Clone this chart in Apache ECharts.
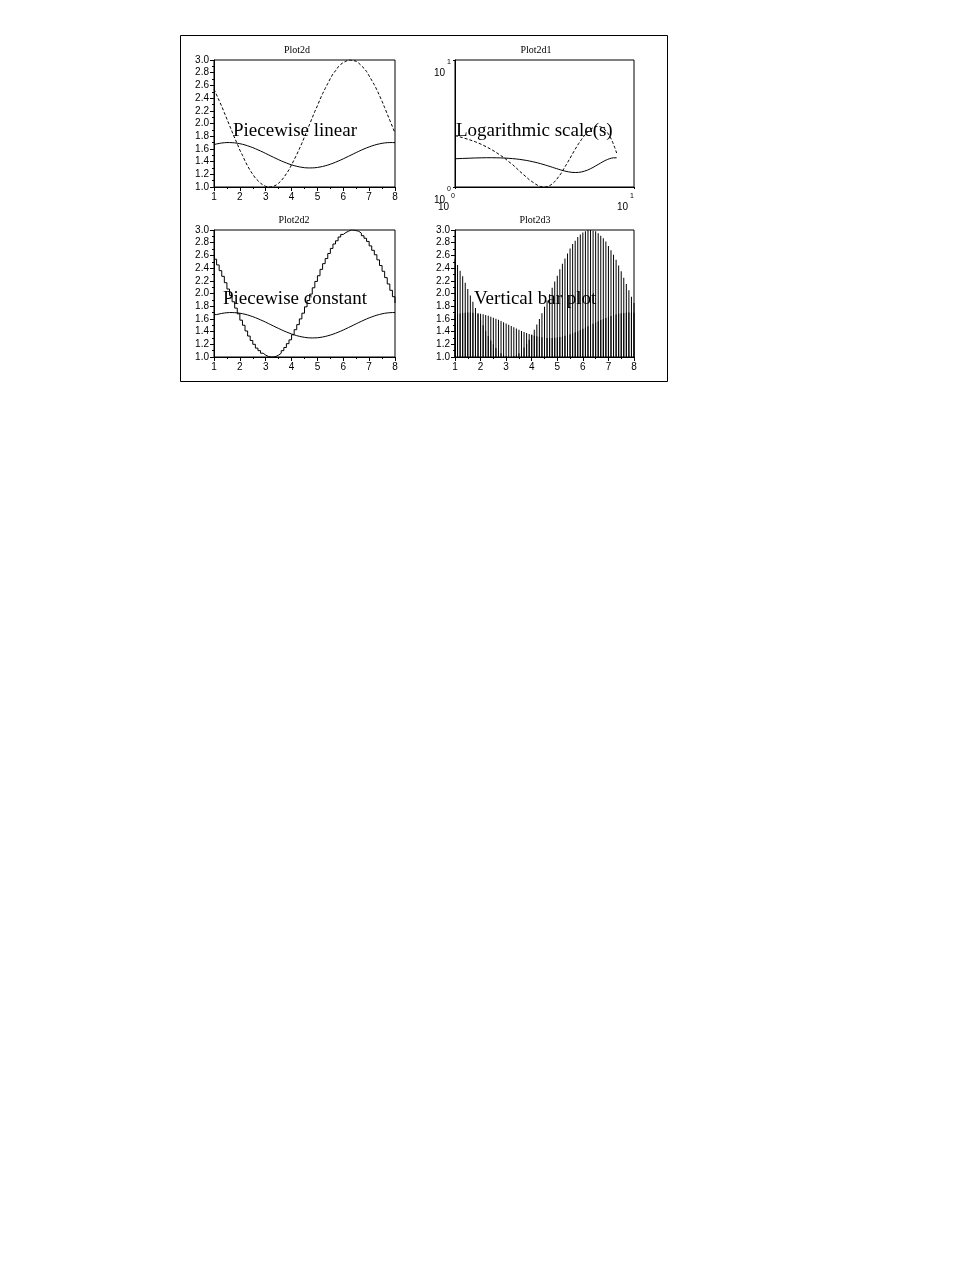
<!DOCTYPE html>
<html>
<head>
<meta charset="utf-8">
<title>plot2d demo</title>
<script src="https://cdn.jsdelivr.net/npm/echarts@6/dist/echarts.min.js"></script>
<style>
  html, body { margin: 0; padding: 0; background: #fff; }
  #chart { width: 978px; height: 1265px; }
</style>
</head>
<body>
<div id="chart"></div>
<script>
// abscissa 1..8 step 0.1
var xs = [
  1.0, 1.1, 1.2, 1.3, 1.4, 1.5, 1.6, 1.7, 1.8, 1.9,
  2.0, 2.1, 2.2, 2.3, 2.4, 2.5, 2.6, 2.7, 2.8, 2.9,
  3.0, 3.1, 3.2, 3.3, 3.4, 3.5, 3.6, 3.7, 3.8, 3.9,
  4.0, 4.1, 4.2, 4.3, 4.4, 4.5, 4.6, 4.7, 4.8, 4.9,
  5.0, 5.1, 5.2, 5.3, 5.4, 5.5, 5.6, 5.7, 5.8, 5.9,
  6.0, 6.1, 6.2, 6.3, 6.4, 6.5, 6.6, 6.7, 6.8, 6.9,
  7.0, 7.1, 7.2, 7.3, 7.4, 7.5, 7.6, 7.7, 7.8, 7.9,
  8.0
];

// the big wave (dashed curve)
var wave = [
  2.54, 2.45, 2.36, 2.27, 2.17, 2.07, 1.97, 1.87, 1.77, 1.68,
  1.58, 1.50, 1.41, 1.33, 1.26, 1.20, 1.14, 1.10, 1.06, 1.03,
  1.01, 1.00, 1.00, 1.01, 1.03, 1.06, 1.10, 1.15, 1.21, 1.27,
  1.35, 1.43, 1.51, 1.60, 1.69, 1.79, 1.89, 1.99, 2.09, 2.19,
  2.28, 2.38, 2.47, 2.55, 2.63, 2.71, 2.78, 2.83, 2.89, 2.93,
  2.96, 2.98, 3.00, 3.00, 2.99, 2.98, 2.95, 2.91, 2.87, 2.82,
  2.75, 2.68, 2.61, 2.53, 2.44, 2.35, 2.25, 2.15, 2.05, 1.95,
  1.85
];

// the flat wave (solid curve)
var flat = [
  1.668, 1.678, 1.686, 1.693, 1.697, 1.700, 1.700, 1.698, 1.695, 1.689,
  1.682, 1.673, 1.662, 1.649, 1.635, 1.620, 1.603, 1.585, 1.567, 1.548,
  1.528, 1.508, 1.488, 1.468, 1.449, 1.430, 1.411, 1.394, 1.378, 1.362,
  1.349, 1.336, 1.326, 1.317, 1.310, 1.304, 1.301, 1.300, 1.301, 1.303,
  1.308, 1.315, 1.323, 1.334, 1.345, 1.359, 1.374, 1.390, 1.407, 1.425,
  1.444, 1.464, 1.483, 1.503, 1.523, 1.543, 1.562, 1.581, 1.599, 1.616,
  1.631, 1.646, 1.659, 1.670, 1.680, 1.688, 1.694, 1.698, 1.700, 1.700,
  1.698
];

var titles = ['Plot2d', 'Plot2d1', 'Plot2d2', 'Plot2d3'];
var captions = ['Piecewise linear', 'Logarithmic scale(s)', 'Piecewise constant', 'Vertical bar plot'];

function pairs(ys) {
  return xs.map(function (x, i) { return [x, ys[i]]; });
}

var tickFont = { fontFamily: 'Liberation Sans', fontSize: 10, color: '#000' };
var black = '#000';

function linX(idx) {
  return {
    gridIndex: idx, type: 'value', min: 1, max: 8, interval: 1,
    axisLine: { onZero: false, lineStyle: { color: black, width: 1 } },
    axisTick: { length: 4, lineStyle: { color: black } },
    minorTick: { show: true, splitNumber: 2, length: 2, lineStyle: { color: black } },
    axisLabel: Object.assign({ margin: 5 }, tickFont),
    splitLine: { show: false }
  };
}
function linY(idx) {
  return {
    gridIndex: idx, type: 'value', min: 1, max: 3, interval: 0.2,
    axisLine: { onZero: false, lineStyle: { color: black, width: 1 } },
    axisTick: { length: 4, lineStyle: { color: black } },
    minorTick: { show: true, splitNumber: 2, length: 2, lineStyle: { color: black } },
    axisLabel: Object.assign({ margin: 5, formatter: function (v) { return v.toFixed(1); } }, tickFont),
    splitLine: { show: false }
  };
}
var logRich = {
  b: { fontFamily: 'Liberation Sans', fontSize: 10, color: black, padding: [12, 0, 0, 0] },
  e: { fontFamily: 'Liberation Sans', fontSize: 7, color: black, padding: [0, 0, 9, 2] }
};
function logAxis(idx, isX) {
  return {
    gridIndex: idx, type: 'log', logBase: 10, min: 1, max: 10,
    axisLine: { onZero: false, lineStyle: { color: black, width: 1 } },
    axisTick: { show: true, length: 2, lineStyle: { color: black } },
    axisLabel: {
      margin: isX ? 3 : 4,
      align: isX ? 'right' : undefined,
      padding: isX ? [0, 0, 0, 0] : [14, 0, 0, 0],
      formatter: function (v) { return '{b|10}{e|' + Math.round(Math.log(v) / Math.LN10) + '}'; },
      rich: logRich
    },
    splitLine: { show: false }
  };
}

var grids = [
  { left: 214, top: 60, width: 181, height: 127 },
  { left: 455, top: 60, width: 179, height: 127 },
  { left: 214, top: 230, width: 181, height: 127 },
  { left: 455, top: 230, width: 179, height: 127 }
].map(function (g) {
  return Object.assign({ show: true, borderColor: black, borderWidth: 1, backgroundColor: 'transparent' }, g);
});

var solidLine = { color: black, width: 1 };
var dashLine = { color: black, width: 1, type: [3, 2] };

function lineSeries(idx, ys, style, step) {
  return {
    type: 'line', xAxisIndex: idx, yAxisIndex: idx,
    data: pairs(ys), showSymbol: false, symbol: 'none',
    step: step || false, lineStyle: style, itemStyle: { color: black },
    silent: true, z: 3
  };
}
function barSeries(ys) {
  return {
    type: 'bar', xAxisIndex: 3, yAxisIndex: 3,
    data: pairs(ys), barWidth: 1, barGap: '-100%',
    itemStyle: { color: black }, silent: true
  };
}

var graphics = [
  { type: 'rect', shape: { x: 180.5, y: 35.5, width: 487, height: 346 },
    style: { fill: 'none', stroke: black, lineWidth: 1 }, z: 100 }
];
var titlePos = [[297, 50], [536, 50], [294, 220], [535, 220]];
titles.forEach(function (t, i) {
  graphics.push({ type: 'text', x: titlePos[i][0], y: titlePos[i][1], z: 100,
    style: { text: t, fill: black, font: '10px "Liberation Serif"', align: 'center', verticalAlign: 'middle' } });
});
var capPos = [[233, 131], [456, 131], [223, 299], [474, 299]];
captions.forEach(function (t, i) {
  graphics.push({ type: 'text', x: capPos[i][0], y: capPos[i][1], z: 100,
    style: { text: t, fill: black, font: '19px "Liberation Serif"', align: 'left', verticalAlign: 'middle' } });
});

var option = {
  animation: false,
  backgroundColor: '#fff',
  grid: grids,
  xAxis: [linX(0), logAxis(1, true), linX(2), linX(3)],
  yAxis: [linY(0), logAxis(1, false), linY(2), linY(3)],
  series: [
    lineSeries(0, flat, solidLine),
    lineSeries(0, wave, dashLine),
    lineSeries(1, flat, solidLine),
    lineSeries(1, wave, dashLine),
    lineSeries(2, flat, solidLine, 'end'),
    lineSeries(2, wave, solidLine, 'end'),
    barSeries(wave),
    barSeries(flat)
  ],
  graphic: graphics
};

echarts.init(document.getElementById('chart')).setOption(option);
</script>
</body>
</html>
